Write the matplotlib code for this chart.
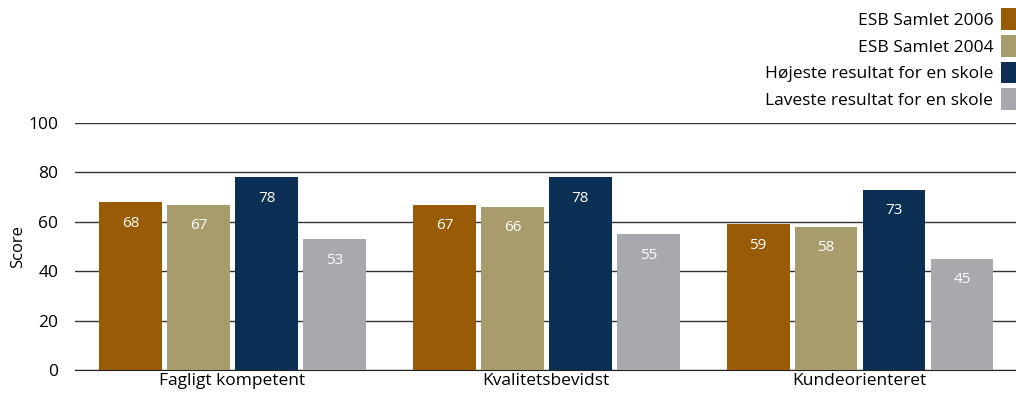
import numpy as np
import matplotlib.pyplot as plt

kategorier = ['Fagligt kompetent', 'Kvalitetsbevidst', 'Kundeorienteret']
serier = ['ESB Samlet 2006', 'ESB Samlet 2004',
          'Højeste resultat for en skole', 'Laveste resultat for en skole']
esb_2006 = [68, 67, 59]
esb_2004 = [67, 66, 58]
hoejeste = [78, 78, 73]
laveste = [53, 55, 45]
farver = ['#9a5b06', '#a99c6c', '#0c2f55', '#a8a9ad']

plt.rcParams['font.family'] = ['Open Sans', 'DejaVu Sans']

fig = plt.figure(figsize=(10.16, 3.98), dpi=100)
ax = fig.add_axes([75 / 1016, 28 / 398, 941 / 1016, 247 / 398])

x = np.arange(len(kategorier))
step = 0.2167
width = 0.2
for i, (navn, vaerdier, farve) in enumerate(zip(serier, [esb_2006, esb_2004, hoejeste, laveste], farver)):
    pos = x + (i - 1.5) * step + 0.003
    ax.bar(pos, vaerdier, width, color=farve, label=navn, zorder=3)
    for px, v in zip(pos, vaerdier):
        ax.annotate(str(v), (px, v), xytext=(0, -21), textcoords='offset pixels',
                    ha='center', va='center', color='white', fontsize=11, zorder=4)

ax.set_xlim(-0.5, 2.5)
ax.set_ylim(0, 100)
ax.set_yticks(range(0, 101, 20))
ax.set_xticks(x)
ax.set_xticklabels(kategorier, fontsize=12.5)
ax.tick_params(axis='y', labelsize=12.5, length=0, pad=12)
ax.tick_params(axis='x', length=0, pad=2)
ax.yaxis.grid(True, color='#333333', linewidth=1, zorder=0)
for s in ['top', 'right', 'left']:
    ax.spines[s].set_visible(False)
ax.spines['bottom'].set_color('#222222')
ax.set_ylabel('Score', fontsize=12)
ax.yaxis.set_label_coords(-0.052, 0.5)

fig.legend(loc='upper right', bbox_to_anchor=(1.004, 0.99), markerfirst=False,
           frameon=False, fontsize=12.5, handlelength=0.85, handleheight=1.55,
           handletextpad=0.45, labelspacing=0.28, borderaxespad=0.0,
           borderpad=0.25, alignment='right')

fig.savefig('out.png', dpi=100)
